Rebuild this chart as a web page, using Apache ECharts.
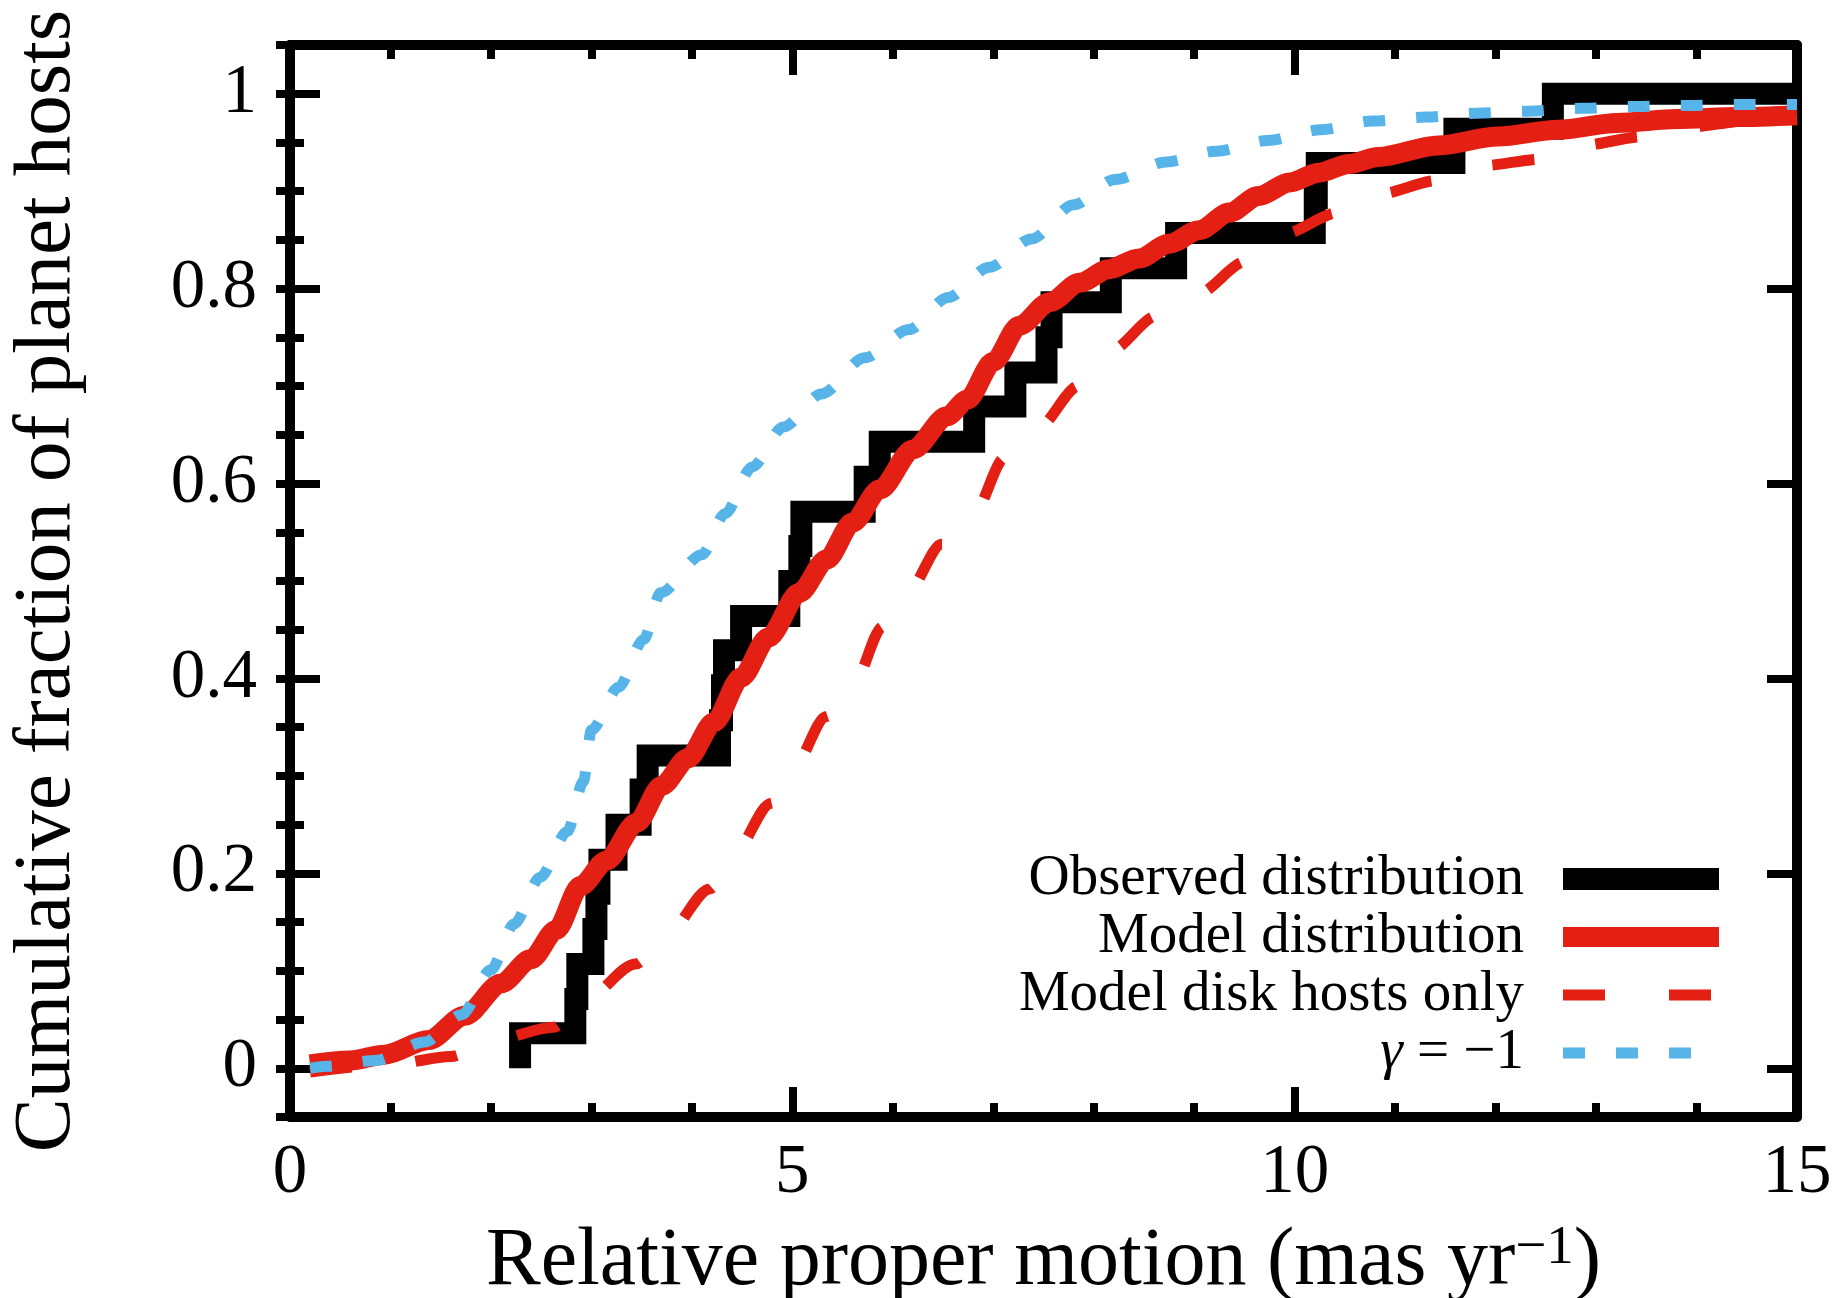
<!DOCTYPE html>
<html>
<head>
<meta charset="utf-8">
<title>Cumulative fraction of planet hosts</title>
<script src="https://cdn.jsdelivr.net/npm/echarts@6.0.0/dist/echarts.min.js"></script>
<style>
  html, body { margin: 0; padding: 0; background: #fff; }
  #chart { width: 1837px; height: 1298px; }
</style>
</head>
<body>
<div id="chart"></div>
<script>
// observed cumulative distribution (step positions and levels)
const obsX = [2.29, 2.29, 2.84, 2.86, 3.02, 3.05, 3.08, 3.25, 3.49, 3.56, 4.28, 4.30, 4.32, 4.49, 4.97,
  5.07, 5.09, 5.72, 5.87, 6.81, 7.22, 7.53, 7.58, 8.17, 8.82, 10.20, 10.22, 11.59, 12.57, 15];
const obsY = [0, 0.036, 0.071, 0.107, 0.143, 0.179, 0.214, 0.250, 0.286, 0.321, 0.357, 0.393, 0.429, 0.464, 0.500,
  0.536, 0.571, 0.607, 0.643, 0.679, 0.714, 0.750, 0.786, 0.821, 0.857, 0.893, 0.929, 0.964, 1.000, 1.000];

// model distribution
const modelX = [0.2, 0.6, 0.94, 1.38, 1.74, 2.1, 2.4, 2.65, 2.89, 3.15, 3.45, 3.7, 3.96, 4.22, 4.49, 4.76, 5.07,
  5.34, 5.6, 5.87, 6.2, 6.54, 6.74, 7.0, 7.26, 7.56, 7.86, 8.15, 8.45, 8.75, 9.05, 9.35, 9.64, 9.95, 10.24,
  10.54, 10.83, 11.43, 12.02, 12.62, 13.21, 13.81, 14.4, 15];
const modelY = [0.004, 0.008, 0.014, 0.029, 0.054, 0.087, 0.112, 0.142, 0.187, 0.213, 0.252, 0.290, 0.318, 0.355,
  0.401, 0.442, 0.488, 0.522, 0.560, 0.594, 0.635, 0.669, 0.686, 0.725, 0.762, 0.786, 0.806, 0.820, 0.831, 0.846,
  0.860, 0.878, 0.895, 0.909, 0.919, 0.928, 0.935, 0.947, 0.956, 0.963, 0.970, 0.974, 0.976, 0.978];

// model, disk hosts only
const diskX = [0.2, 1.0, 1.60, 2.02, 2.62, 2.93, 3.44, 3.73, 4.18, 4.40, 4.79, 4.99, 5.34, 5.60, 5.90, 6.13, 6.49,
  6.81, 7.11, 7.44, 7.85, 8.16, 8.63, 9.02, 9.52, 9.88, 10.44, 10.83, 11.43, 11.85, 12.47, 12.85, 13.48, 13.87,
  14.5, 15];
const diskY = [-0.004, 0.004, 0.012, 0.029, 0.042, 0.070, 0.107, 0.135, 0.184, 0.218, 0.272, 0.305, 0.361, 0.393,
  0.453, 0.486, 0.538, 0.570, 0.626, 0.657, 0.700, 0.736, 0.772, 0.794, 0.828, 0.856, 0.878, 0.897, 0.911, 0.926,
  0.933, 0.947, 0.956, 0.965, 0.972, 0.978];

// gamma = -1
const gamX = [0.2, 0.37, 0.85, 1.34, 1.71, 2.0, 2.23, 2.49, 2.76, 2.92, 3.0, 3.27, 3.52, 3.69, 4.10, 4.33, 4.60,
  4.91, 5.29, 5.72, 6.16, 6.55, 6.96, 7.38, 7.80, 8.21, 8.72, 9.22, 9.73, 10.26, 10.77, 11.31, 11.81, 12.32,
  12.85, 13.39, 13.92, 14.43, 15];
const gamY = [0.0, 0.002, 0.008, 0.027, 0.055, 0.101, 0.148, 0.196, 0.243, 0.294, 0.347, 0.391, 0.440, 0.488,
  0.527, 0.569, 0.617, 0.658, 0.692, 0.729, 0.758, 0.791, 0.822, 0.851, 0.886, 0.912, 0.930, 0.941, 0.952, 0.963,
  0.972, 0.976, 0.980, 0.982, 0.985, 0.987, 0.988, 0.989, 0.989];

const yMajor = [0, 0.2, 0.4, 0.6, 0.8, 1];

const serif = '"Liberation Serif", "DejaVu Serif", "Times New Roman", serif';
const red = '#e41f13';
const blue = '#56b4e9';
const names = ['Observed distribution', 'Model distribution', 'Model disk hosts only', 'γ = −1'];

const pairs = (xs, ys) => xs.map((x, i) => [x, ys[i]]);

const tickLine = { color: '#000', width: 8 };
const frame = { show: true, onZero: false, lineStyle: { color: '#000', width: 10 } };

function xAx(pos, withLabels) {
  return {
    type: 'value', position: pos, min: 0, max: 15, interval: 5,
    axisLine: frame,
    axisTick: { inside: true, length: 30, lineStyle: tickLine },
    minorTick: { show: true, splitNumber: 5, length: 14, lineStyle: tickLine },
    splitLine: { show: false },
    minorSplitLine: { show: false },
    axisLabel: withLabels
      ? { margin: 22, fontFamily: serif, fontSize: 69, color: '#000' }
      : { show: false },
  };
}

function yMajorAx(pos, withLabels) {
  return {
    type: 'value', position: pos, min: -0.05, max: 1.05,
    axisLine: frame,
    axisTick: { inside: true, length: 30, lineStyle: tickLine, customValues: yMajor },
    splitLine: { show: false },
    axisLabel: withLabels
      ? { customValues: yMajor, margin: 33, fontFamily: serif, fontSize: 69, color: '#000' }
      : { show: false },
  };
}

function yMinorAx(pos) {
  return {
    type: 'value', position: pos, min: -0.05, max: 1.05, interval: 0.05,
    axisLine: { show: false },
    axisTick: { inside: true, length: 14, lineStyle: tickLine },
    splitLine: { show: false },
    axisLabel: { show: false },
  };
}

const xBottom = Object.assign(xAx('bottom', true), {
  name: '{a|Relative proper motion (mas yr}{s|−1}{a|)}',
  nameLocation: 'middle',
  nameGap: 104,
  nameTextStyle: {
    color: '#000',
    fontFamily: serif,
    fontSize: 82,
    rich: {
      a: { fontFamily: serif, fontSize: 82, color: '#000' },
      s: { fontFamily: serif, fontSize: 55, color: '#000', verticalAlign: 'top' },
    },
  },
});

const yLeft = Object.assign(yMajorAx('left', true), {
  name: 'Cumulative fraction of planet hosts',
  nameLocation: 'middle',
  nameGap: 202,
  nameTextStyle: { color: '#000', fontFamily: serif, fontSize: 81 },
});

const hideDot = { opacity: 0 };

const chart = echarts.init(document.getElementById('chart'));

chart.setOption({
  animation: false,
  backgroundColor: '#fff',
  grid: { left: 290, right: 40, top: 45, bottom: 181, containLabel: false, outerBoundsMode: 'none' },
  xAxis: [xBottom, xAx('top', false)],
  yAxis: [yLeft, yMajorAx('right', false), yMinorAx('left'), yMinorAx('right')],
  legend: {
    orient: 'vertical',
    align: 'right',
    right: 107,
    top: 850,
    padding: 0,
    itemWidth: 156,
    itemHeight: 24,
    itemGap: 0,
    selectedMode: false,
    textStyle: {
      fontFamily: serif, fontSize: 57, lineHeight: 58, color: '#000', padding: [0, 34, 0, 0],
      rich: { g: { fontFamily: serif, fontSize: 57, fontStyle: 'italic', color: '#000' } },
    },
    formatter: (name) => (name === names[3] ? '{g|γ} = −1' : name),
    data: [
      { name: names[0], lineStyle: { width: 22 }, itemStyle: hideDot },
      { name: names[1], lineStyle: { width: 20 }, itemStyle: hideDot },
      { name: names[2], lineStyle: { width: 11 }, itemStyle: hideDot },
      { name: names[3], lineStyle: { width: 11 }, itemStyle: hideDot },
    ],
  },
  series: [
    {
      name: names[0], type: 'line', step: 'end', symbol: 'none', z: 2,
      data: pairs(obsX, obsY), color: '#000',
      lineStyle: { color: '#000', width: 22, join: 'miter', cap: 'butt' },
    },
    {
      name: names[2], type: 'line', symbol: 'none', z: 3, smooth: 0.3, smoothMonotone: 'x',
      data: pairs(diskX, diskY), color: red,
      lineStyle: { color: red, width: 11, type: [42, 64] },
    },
    {
      name: names[1], type: 'line', symbol: 'none', z: 4, smooth: 0.3, smoothMonotone: 'x',
      data: pairs(modelX, modelY), color: red,
      lineStyle: { color: red, width: 20 },
    },
    {
      name: names[3], type: 'line', symbol: 'none', z: 5, smooth: 0.3, smoothMonotone: 'x',
      data: pairs(gamX, gamY), color: blue,
      lineStyle: { color: blue, width: 11, type: [22, 31] },
    },
  ],
});
</script>
</body>
</html>
